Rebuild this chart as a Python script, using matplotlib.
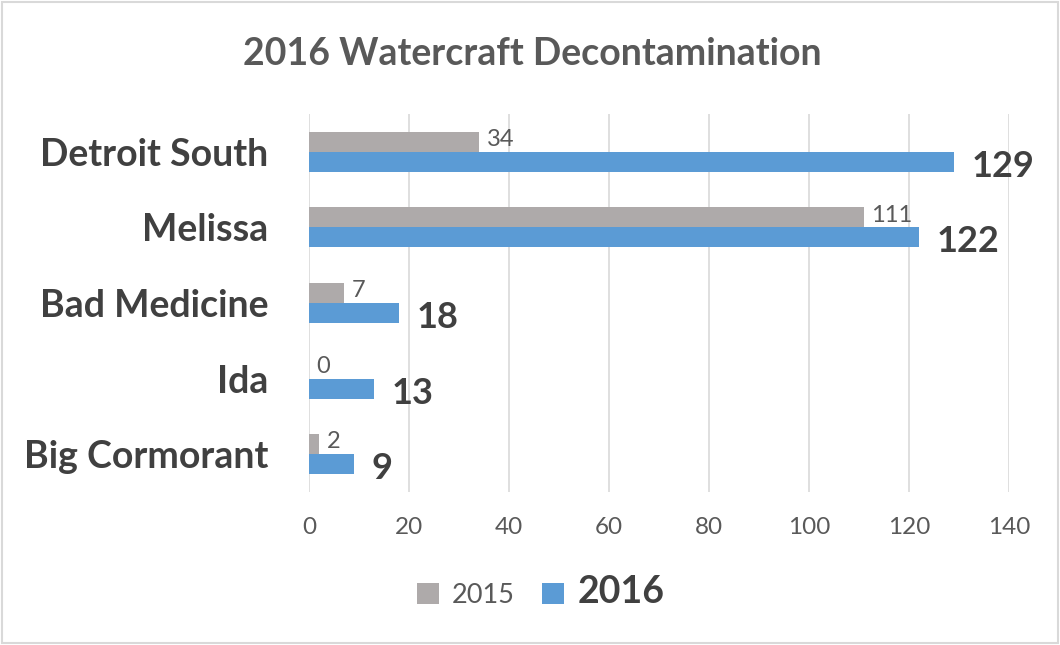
import matplotlib.pyplot as plt
import numpy as np
from matplotlib.patches import Rectangle

plt.rcParams['font.family'] = ['Lato', 'DejaVu Sans']

sites = ['Detroit South', 'Melissa', 'Bad Medicine', 'Ida', 'Big Cormorant']
vals_2015 = [34, 111, 7, 0, 2]
vals_2016 = [129, 122, 18, 13, 9]
xticks = [0, 20, 40, 60, 80, 100, 120, 140]

gray = '#AEAAAA'
blue = '#5B9BD5'
text_col = '#595959'
dark = '#404040'

fig = plt.figure(figsize=(10.6, 6.45), dpi=100)
ax = fig.add_axes([0.2915, 0.2372, 0.6604, 0.5861])

y = np.arange(len(sites))[::-1]
h = 0.265
ax.barh(y + h / 2, vals_2015, height=h, color=gray, label='2015', zorder=3)
ax.barh(y - h / 2, vals_2016, height=h, color=blue, label='2016', zorder=3)

for yi, v in zip(y, vals_2015):
    ax.text(v + 1.5, yi + h / 2 + 0.03, str(v), va='center', ha='left',
            fontsize=17, color=text_col)
for yi, v in zip(y, vals_2016):
    ax.text(v + 3.5, yi - h / 2 - 0.06, str(v), va='center', ha='left',
            fontsize=26, fontweight='bold', color=dark)

ax.set_xlim(0, 140)
ax.set_ylim(-0.5, len(sites) - 0.5)
ax.set_xticks(xticks)
ax.set_yticks(y)
ax.set_yticklabels(sites, fontsize=27, fontweight='bold', color=dark)
ax.tick_params(axis='x', labelsize=17.5, colors=text_col, length=0, pad=18)
ax.tick_params(axis='y', length=0, pad=29)
ax.grid(axis='x', color='#D9D9D9', linewidth=1.2, zorder=0)
for s in ax.spines.values():
    s.set_visible(False)

fig.text(0.502, 0.917, '2016 Watercraft Decontamination', ha='center', va='center',
         fontsize=27, fontweight='bold', color=text_col)

leg = fig.legend(loc='center', bbox_to_anchor=(0.51, 0.082), ncol=2, frameon=False,
                 fontsize=19.5, handlelength=0.8, handleheight=0.8,
                 columnspacing=1.0, handletextpad=0.5)
leg.get_texts()[0].set_color(text_col)
leg.get_texts()[1].set_fontsize(27)
leg.get_texts()[1].set_fontweight('bold')
leg.get_texts()[1].set_color(dark)

fig.patches.append(Rectangle((0.002, 0.003), 0.996, 0.994, transform=fig.transFigure,
                             fill=False, edgecolor='#D9D9D9', linewidth=1.5))

fig.savefig('out.png', dpi=100)
